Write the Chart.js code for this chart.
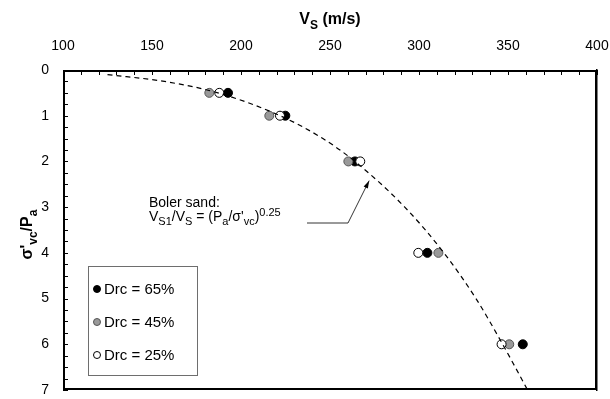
<!DOCTYPE html>
<html>
<head>
<meta charset="utf-8">
<script src="https://cdn.jsdelivr.net/npm/chart.js@4.4.1/dist/chart.umd.min.js"></script>
<style>
  html, body { margin: 0; padding: 0; background: #fff; overflow: hidden; }
  canvas { display: block; }
</style>
</head>
<body>
<canvas id="vsChart" width="610" height="399"></canvas>
<script>
// Normalised vertical stress levels (sigma'vc / Pa)
const stressLevels = [0.5, 1, 2, 4, 6];
// Shear wave velocity Vs (m/s) per relative density
const vsDrc65 = [192.7, 224.9, 264.0, 304.7, 358.3];
const vsDrc45 = [182.2, 215.9, 260.3, 310.9, 350.7];
const vsDrc25 = [187.8, 221.9, 267.0, 299.6, 346.4];
// Dashed Boler sand trend
const trendStress = [0.1, 0.25, 0.5, 1, 1.5, 2, 3, 4, 5, 6, 7];
const trendVs = [125, 157, 187, 222, 246, 264, 292, 314, 332, 347, 361];
// Axis ranges
const vsTicks = [100, 150, 200, 250, 300, 350, 400];
const stressTicks = [0, 1, 2, 3, 4, 5, 6, 7];
const legendLabels = ['Drc = 65%', 'Drc = 45%', 'Drc = 25%'];

const FONT = '"Liberation Sans", Arial, sans-serif';

const toPoints = (xs, ys) => xs.map((v, i) => ({ x: v, y: ys[i] }));

const seriesStyles = [
    { fill: '#000000', stroke: '#000000' },
    { fill: '#999999', stroke: '#555555' },
    { fill: '#ffffff', stroke: '#000000' }
];

// draw a run of text pieces with sub/superscripts, returns the total width
const drawRich = (ctx, parts, x, y, size, weight, measureOnly) => {
    let cx = x;
    parts.forEach(p => {
        const small = p.s !== 'n';
        const fs = small ? Math.round(size * 0.78) : size;
        ctx.font = `${weight} ${fs}px ${FONT}`;
        let dy = 0;
        if (p.s === 'sub') dy = size * 0.3;
        if (p.s === 'sup') dy = -size * 0.38;
        if (!measureOnly) ctx.fillText(p.t, cx, y + dy);
        cx += ctx.measureText(p.t).width;
    });
    return cx - x;
};

const frameBox = (chart) => {
    const sx = chart.scales.x, sy = chart.scales.y;
    return {
        L: Math.round(sx.getPixelForValue(vsTicks[0])),
        R: Math.round(sx.getPixelForValue(vsTicks[vsTicks.length - 1])),
        T: Math.round(sy.getPixelForValue(stressTicks[0])),
        B: Math.round(sy.getPixelForValue(stressTicks[stressTicks.length - 1]))
    };
};

const decorations = {
    id: 'decorations',
    afterDraw(chart) {
        const { ctx, scales } = chart;
        const sx = scales.x, sy = scales.y;
        const { L, R, T, B } = frameBox(chart);
        ctx.save();
        ctx.setLineDash([]);

        // frame: heavier top/left axes
        ctx.fillStyle = '#000';
        ctx.fillRect(L, T, R - L, 2);
        ctx.fillRect(L, T, 2, B - T);
        ctx.fillRect(L, B - 2, R - L, 2);

        // inward tick marks
        for (let v = vsTicks[0]; v <= vsTicks[vsTicks.length - 1]; v += 10) {
            const px = Math.round(sx.getPixelForValue(v));
            ctx.fillRect(px, T, 1, 5);
        }
        for (let v = 0; v <= 7; v += 0.25) {
            const py = Math.round(sy.getPixelForValue(v));
            ctx.fillRect(L, py, 5, 1);
        }

        // tick labels
        ctx.font = `14px ${FONT}`;
        ctx.textAlign = 'center';
        ctx.textBaseline = 'middle';
        vsTicks.forEach(v => ctx.fillText(String(v), sx.getPixelForValue(v), 46));
        ctx.textAlign = 'right';
        stressTicks.forEach(v => ctx.fillText(String(v), 49, sy.getPixelForValue(v)));
        ctx.textAlign = 'left';

        // axis titles
        ctx.textBaseline = 'alphabetic';
        const xTitle = [{ t: 'V', s: 'n' }, { t: 'S', s: 'sub' }, { t: ' (m/s)', s: 'n' }];
        const xw = drawRich(ctx, xTitle, 0, 0, 16, 'bold', true);
        drawRich(ctx, xTitle, (L + R) / 2 - xw / 2, 24, 16, 'bold', false);

        const yTitle = [{ t: "σ'", s: 'n' }, { t: 'vc', s: 'sub' }, { t: '/P', s: 'n' }, { t: 'a', s: 'sub' }];
        const yw = drawRich(ctx, yTitle, 0, 0, 16, 'bold', true);
        ctx.save();
        ctx.translate(32, sy.getPixelForValue(3.6));
        ctx.rotate(-Math.PI / 2);
        drawRich(ctx, yTitle, -yw / 2, 0, 16, 'bold', false);
        ctx.restore();

        // legend box
        const lx = 88, ly = 266, lw = 109, lh = 109;
        ctx.fillStyle = '#fff';
        ctx.fillRect(lx, ly, lw, lh);
        ctx.strokeStyle = '#6e6e6e';
        ctx.lineWidth = 1;
        ctx.strokeRect(lx + 0.5, ly + 0.5, lw, lh);
        ctx.textBaseline = 'middle';
        legendLabels.forEach((label, i) => {
            const cy = ly + 23 + i * 33;
            ctx.beginPath();
            ctx.arc(lx + 9, cy, 3.5, 0, Math.PI * 2);
            ctx.fillStyle = seriesStyles[i].fill;
            ctx.fill();
            ctx.strokeStyle = seriesStyles[i].stroke;
            ctx.stroke();
            ctx.fillStyle = '#000';
            ctx.font = `15px ${FONT}`;
            ctx.fillText(label, lx + 16, cy + 1);
        });

        // Boler sand note with leader arrow
        ctx.textBaseline = 'alphabetic';
        ctx.fillStyle = '#000';
        ctx.font = `14px ${FONT}`;
        ctx.fillText('Boler sand:', 149, 207);
        const eq = [
            { t: 'V', s: 'n' }, { t: 'S1', s: 'sub' }, { t: '/V', s: 'n' }, { t: 'S', s: 'sub' },
            { t: ' = (P', s: 'n' }, { t: 'a', s: 'sub' }, { t: "/σ'", s: 'n' }, { t: 'vc', s: 'sub' },
            { t: ')', s: 'n' }, { t: '0.25', s: 'sup' }
        ];
        drawRich(ctx, eq, 149, 221, 14, 'normal', false);

        const tipX = sx.getPixelForValue(272);
        const tipY = sy.getPixelForValue(2.42);
        const elbowX = 348, elbowY = 223;
        ctx.strokeStyle = '#000';
        ctx.lineWidth = 0.8;
        ctx.beginPath();
        ctx.moveTo(307, elbowY);
        ctx.lineTo(elbowX, elbowY);
        ctx.lineTo(tipX, tipY);
        ctx.stroke();
        const ang = Math.atan2(tipY - elbowY, tipX - elbowX);
        ctx.beginPath();
        ctx.moveTo(tipX, tipY);
        ctx.lineTo(tipX - 8 * Math.cos(ang - 0.3), tipY - 8 * Math.sin(ang - 0.3));
        ctx.lineTo(tipX - 8 * Math.cos(ang + 0.3), tipY - 8 * Math.sin(ang + 0.3));
        ctx.closePath();
        ctx.fillStyle = '#000';
        ctx.fill();

        // right edge last, as a stroked path inside the plot
        ctx.strokeStyle = '#000';
        ctx.lineWidth = 1.5;
        ctx.beginPath();
        ctx.moveTo(R - 1.25, T);
        ctx.lineTo(R - 1.25, B);
        ctx.stroke();

        ctx.restore();
    }
};

const makeSeries = (vs, i) => ({
    type: 'scatter',
    data: toPoints(vs, stressLevels),
    backgroundColor: seriesStyles[i].fill,
    borderColor: seriesStyles[i].stroke,
    borderWidth: 1,
    pointRadius: 4.5,
    order: 3 - i
});

new Chart(document.getElementById('vsChart'), {
    type: 'scatter',
    data: {
        datasets: [
            makeSeries(vsDrc65, 0),
            makeSeries(vsDrc45, 1),
            makeSeries(vsDrc25, 2),
            {
                type: 'line',
                data: toPoints(trendVs, trendStress),
                borderColor: '#000',
                borderWidth: 1.2,
                borderDash: [5, 4],
                pointRadius: 0,
                fill: false,
                cubicInterpolationMode: 'monotone',
                order: 0
            }
        ]
    },
    options: {
        responsive: false,
        animation: false,
        layout: { padding: { top: 0, right: 0, bottom: 9, left: 0 } },
        plugins: {
            legend: { display: false },
            tooltip: { enabled: false }
        },
        scales: {
            x: {
                type: 'linear',
                position: 'top',
                min: vsTicks[0],
                max: vsTicks[vsTicks.length - 1],
                afterBuildTicks: (scale) => { scale.ticks = vsTicks.map(v => ({ value: v })); },
                afterFit: (scale) => {
                    scale.height = 70;
                    scale.paddingLeft = 0;
                    scale.paddingRight = 0;
                },
                grid: { display: false, drawTicks: false },
                border: { display: false },
                ticks: { display: false }
            },
            y: {
                type: 'linear',
                reverse: true,
                min: stressTicks[0],
                max: stressTicks[stressTicks.length - 1],
                afterBuildTicks: (scale) => { scale.ticks = stressTicks.map(v => ({ value: v })); },
                afterFit: (scale) => {
                    scale.width = 63;
                    scale.paddingTop = 0;
                    scale.paddingBottom = 0;
                },
                grid: { display: false, drawTicks: false },
                border: { display: false },
                ticks: { display: false }
            },
            // right-hand frame edge, drawn by Chart.js itself
            yRight: {
                type: 'linear',
                position: 'right',
                reverse: true,
                min: stressTicks[0],
                max: stressTicks[stressTicks.length - 1],
                afterFit: (scale) => {
                    scale.width = 13;
                    scale.paddingTop = 0;
                    scale.paddingBottom = 0;
                },
                grid: { display: false, drawTicks: false },
                border: { display: true, color: '#000', width: 1.5 },
                ticks: { display: false }
            }
        }
    },
    plugins: [decorations]
});
</script>
</body>
</html>
